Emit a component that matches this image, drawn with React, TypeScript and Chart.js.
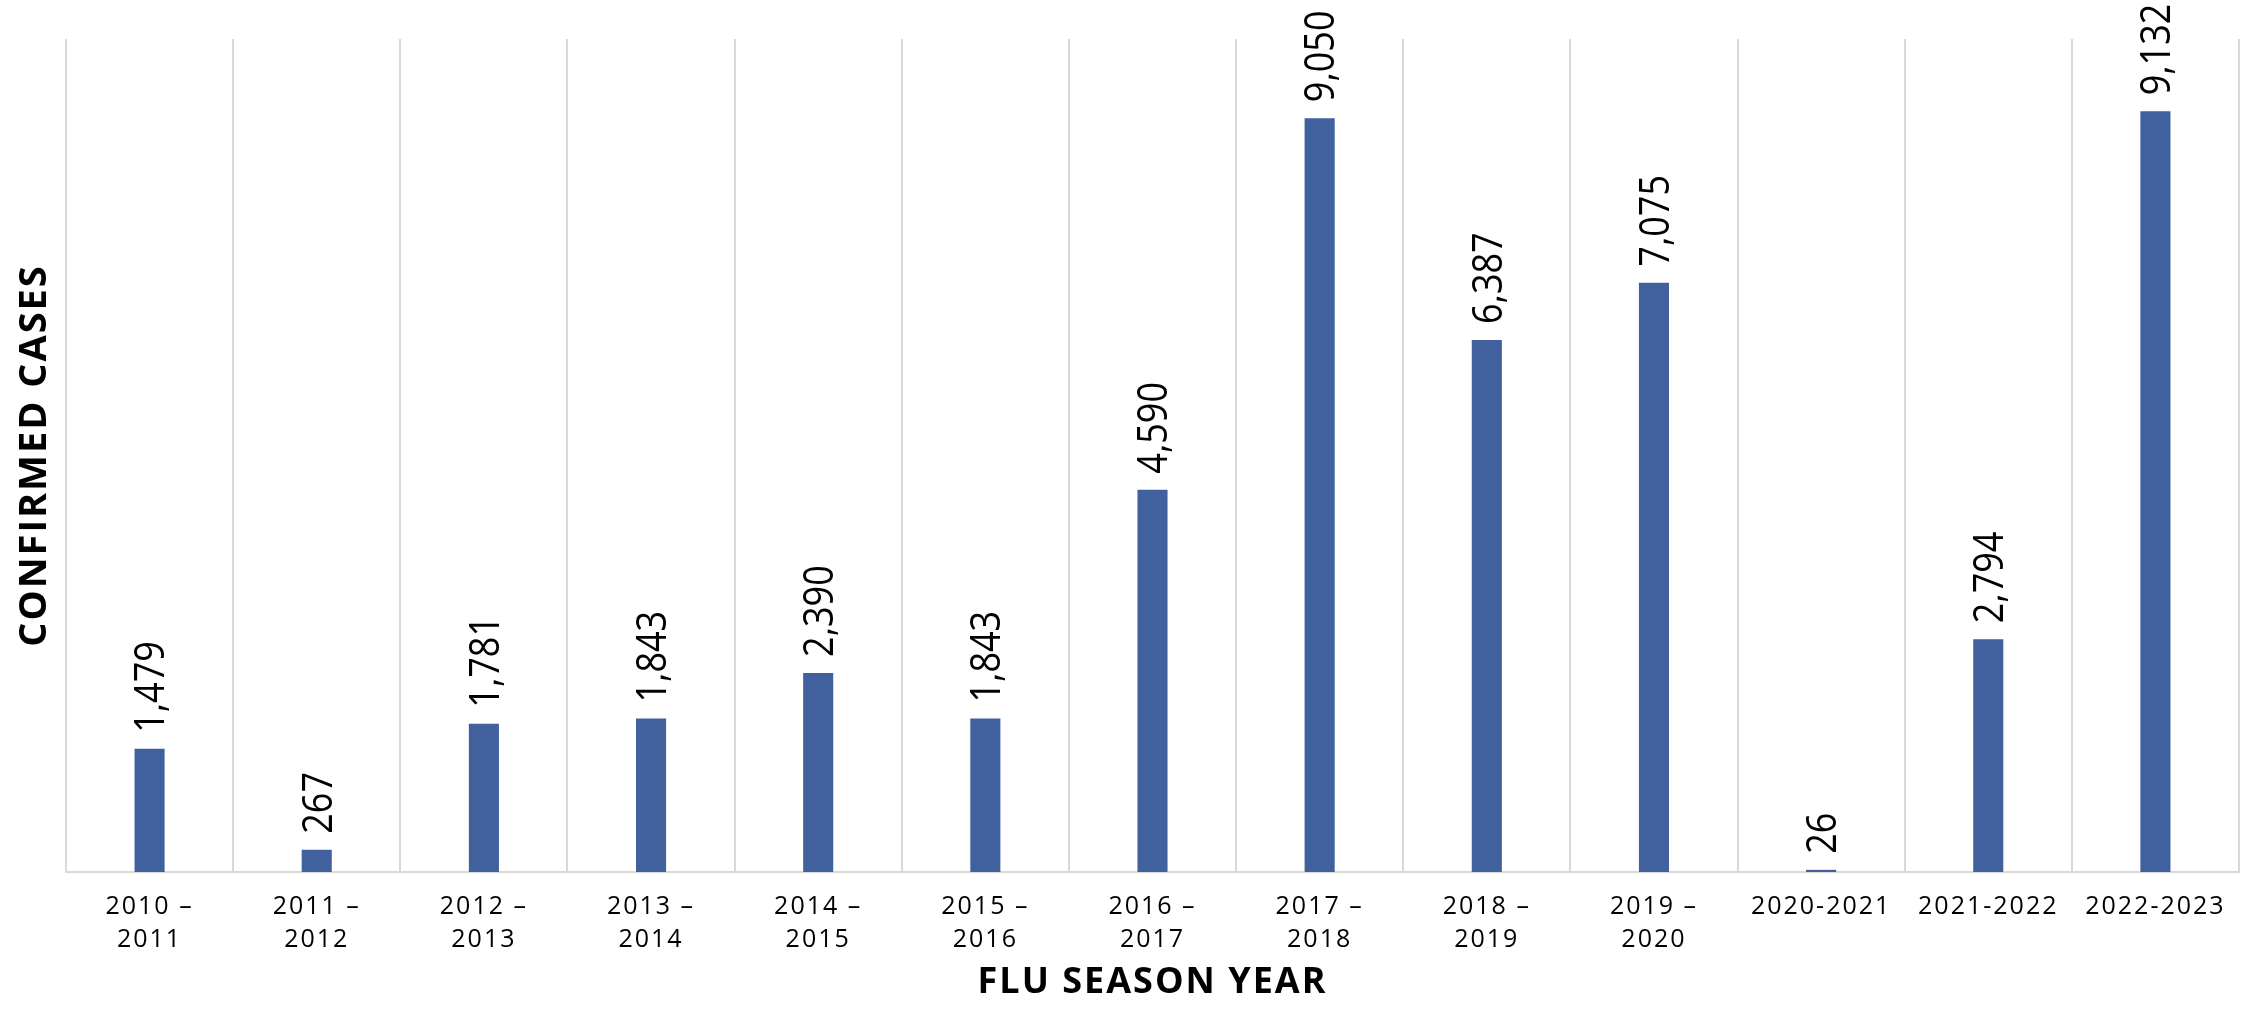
import React, { useEffect, useRef } from "react";
import { Chart, registerables } from "chart.js";

Chart.register(...registerables);

const categories: (string | string[])[] = [
  ["2010 –", "2011"],
  ["2011 –", "2012"],
  ["2012 –", "2013"],
  ["2013 –", "2014"],
  ["2014 –", "2015"],
  ["2015 –", "2016"],
  ["2016 –", "2017"],
  ["2017 –", "2018"],
  ["2018 –", "2019"],
  ["2019 –", "2020"],
  "2020-2021",
  "2021-2022",
  "2022-2023",
];

const confirmedCases: number[] = [1479, 267, 1781, 1843, 2390, 1843, 4590, 9050, 6387, 7075, 26, 2794, 9132];

const yAxisMin = 0;
const yAxisMax = 10000;

const xAxisTitle = "FLU SEASON YEAR";
const yAxisTitle = "CONFIRMED CASES";

const BAR_COLOR = "#41609E";
const GRID_COLOR = "#d9d9d9";

const spacingPlugin = {
  id: "xLabelSpacing",
  beforeDraw(chart: any) {
    chart.ctx.letterSpacing = "2px";
  },
  beforeDatasetsDraw(chart: any) {
    chart.ctx.letterSpacing = "0px";
  },
  afterDraw(chart: any) {
    chart.ctx.letterSpacing = "0px";
  },
};

const barLabelPlugin = {
  id: "barValueLabels",
  afterDatasetsDraw(chart: any) {
    const ctx: CanvasRenderingContext2D = chart.ctx;
    const meta = chart.getDatasetMeta(0);
    const values = chart.data.datasets[0].data as number[];
    const size = 36;
    ctx.save();
    (ctx as any).letterSpacing = "0px";
    ctx.font = `${size}px "Open Sans"`;
    ctx.fillStyle = "#000000";
    ctx.textAlign = "left";
    ctx.textBaseline = "alphabetic";
    meta.data.forEach((bar: any, i: number) => {
      const text = Number(values[i]).toLocaleString("en-US");
      ctx.save();
      ctx.translate(bar.x, bar.y - 16);
      ctx.scale(1.15, 1);
      ctx.rotate(-Math.PI / 2);
      ctx.fillText(text, 0, 0.357 * size);
      ctx.restore();
    });
    ctx.restore();
  },
};

export default function App() {
  const canvasRef = useRef<HTMLCanvasElement | null>(null);

  useEffect(() => {
    if (!canvasRef.current) return;
    const chart = new Chart(canvasRef.current, {
      type: "bar",
      data: {
        labels: categories,
        datasets: [
          {
            label: "Confirmed cases",
            data: confirmedCases,
            backgroundColor: BAR_COLOR,
            borderWidth: 0,
            barPercentage: 0.18,
            categoryPercentage: 1,
          },
        ],
      },
      options: {
        animation: false,
        responsive: true,
        maintainAspectRatio: false,
        layout: { padding: { top: 39, right: 13, left: 0, bottom: 0 } },
        plugins: {
          legend: { display: false },
          tooltip: { enabled: false },
          title: { display: false },
        },
        scales: {
          x: {
            offset: true,
            grid: {
              display: true,
              offset: true,
              color: GRID_COLOR,
              lineWidth: 2,
              drawTicks: false,
            },
            border: { display: true, color: GRID_COLOR, width: 2 },
            ticks: {
              color: "#000000",
              padding: 18.5,
              maxRotation: 0,
              minRotation: 0,
              autoSkip: false,
              font: { family: "'Open Sans'", size: 25, lineHeight: 1.32 },
            },
            title: {
              display: true,
              text: xAxisTitle,
              color: "#000000",
              font: { family: "'Open Sans'", size: 36, weight: "bold", lineHeight: 1.2 },
              padding: { top: -13.6, bottom: 9.4 },
            },
          },
          y: {
            min: yAxisMin,
            max: yAxisMax,
            grid: { display: false, drawTicks: false },
            border: { display: false },
            ticks: { display: false, z: 1 },
            title: {
              display: true,
              text: yAxisTitle,
              color: "#000000",
              font: { family: "'Open Sans'", size: 38, weight: "bold", lineHeight: 1.2 },
              padding: { top: 12.2, bottom: 8.2 },
            },
          },
        },
      },
      plugins: [spacingPlugin, barLabelPlugin],
    });
    return () => chart.destroy();
  }, []);

  return (
    <div style={{ position: "absolute", left: 0, top: 0, width: 2252, height: 1014, background: "#ffffff" }}>
      <canvas ref={canvasRef} />
    </div>
  );
}
